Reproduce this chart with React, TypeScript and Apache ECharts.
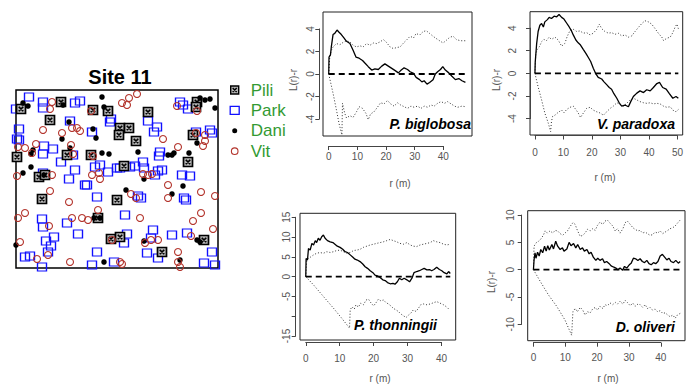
import React, { useEffect, useRef } from 'react';
import * as echarts from 'echarts';

const FONT = '"Liberation Sans Narrow", "Liberation Sans", Arial, sans-serif';
const SANS = '"Liberation Sans", Arial, sans-serif';

// ---- Site 11 stem map (plot units: x 0-202, y 0-178) ----
const speciesNames = ['Pili', 'Park', 'Dani', 'Vit'];

const piliPts = [
  [45,166],[77,158],[34,148],[5,159],[92,157],[132,156],[104,140],[113,140],[103,133],[120,127],
  [181,166],[180,161],[177,133],[51,113],[75,113],[1,111],[172,106],[108,102],[23,91],[29,93],
  [26,69],[101,68],[82,50],[95,29],[104,31],[188,28],[146,16]
];

const parkPts = [
  [13,171],[27,166],[27,160],[0,159],[59,165],[64,167],[164,166],[167,163],[172,159],[95,149],
  [94,146],[3,139],[1,129],[3,128],[54,147],[76,136],[132,147],[141,141],[138,136],[180,136],
  [194,138],[196,135],[28,122],[37,119],[27,114],[57,113],[45,106],[79,101],[84,103],[92,96],
  [101,100],[104,100],[119,102],[114,101],[127,106],[128,100],[144,116],[143,112],[146,98],[142,97],
  [139,93],[166,93],[174,92],[59,98],[53,89],[69,83],[71,83],[27,95],[81,71],[122,72],
  [125,70],[168,70],[170,68],[109,53],[26,49],[27,41],[51,45],[62,34],[38,31],[30,27],
  [35,22],[32,16],[9,11],[14,12],[81,16],[111,34],[108,25],[137,38],[135,30],[156,33],
  [171,35],[131,15],[142,10],[196,16],[26,1],[76,3],[98,6],[188,5],[199,3]
];

const daniPts = [
  [86,171],[7,165],[12,162],[47,163],[88,161],[184,170],[189,168],[194,169],[199,160],[53,146],
  [77,139],[80,130],[46,129],[54,120],[17,118],[15,114],[86,115],[93,114],[122,116],[152,113],
  [156,113],[158,115],[173,115],[181,125],[15,101],[7,95],[28,93],[128,89],[110,78],[156,74],
  [167,82],[78,50],[84,50],[0,23],[128,27],[181,28],[184,26],[88,6],[164,8]
];

const vitPts = [
  [36,166],[34,159],[113,170],[121,174],[106,165],[111,163],[161,162],[181,157],[75,157],[27,138],
  [56,140],[61,140],[64,137],[46,135],[180,135],[189,133],[189,127],[187,122],[147,129],[162,121],
  [2,121],[9,120],[20,124],[16,115],[55,123],[77,112],[57,114],[36,93],[1,92],[76,93],
  [83,95],[84,89],[127,94],[132,93],[136,94],[152,83],[185,76],[199,72],[34,77],[53,66],
  [115,74],[120,70],[152,70],[82,58],[9,55],[2,50],[56,50],[66,50],[72,48],[124,50],
  [185,55],[177,47],[33,42],[197,39],[4,26],[96,28],[129,25],[135,28],[142,28],[175,32],
  [162,16],[32,13],[21,9],[54,6],[104,6],[106,4],[162,6],[164,1]
];

// ---- L(r)-r curves: [r, value] ----
const bigObs = [
  [0,0],[0.1,1.5],[0.6,1.7],[0.9,2.4],[1.5,3.5],[2.1,3.6],[2.9,3.9],[3.6,3.7],[4.4,3.5],[5.3,3.2],
  [6.2,2.9],[7.4,2.7],[8.5,2.1],[9.5,1.5],[10.6,1.4],[11.8,1.2],[12.7,0.95],[13.8,0.65],[15,0.35],[16.1,0.45],
  [17.3,0.4],[18.5,0.7],[19.6,0.9],[20.8,0.7],[22,0.5],[23.2,0.3],[24.3,0.1],[25.1,0.3],[26.3,0.55],[27.5,0.4],
  [28.4,0.2],[29.6,0.05],[30.5,-0.3],[31.7,-0.5],[32.5,-0.7],[33.3,-0.6],[34.3,-0.9],[35.2,-0.75],[36.4,-0.5],[37.2,0],
  [38,0.2],[39,0.4],[39.8,0.65],[40.7,0.35],[41.9,0.1],[43,-0.2],[44.2,-0.5],[45.4,-0.4],[46.5,-0.6],[47.7,-0.75]
];
const bigHi = [
  [0,0],[0.35,1.5],[0.9,2.1],[1.5,2.4],[2.7,2.7],[3.9,2.6],[5,2.8],[6.2,2.95],[7.4,2.85],[8.5,2.55],
  [9.7,2.4],[10.9,2.5],[12,2.4],[13.2,2.7],[14.4,2.55],[15.6,2.75],[16.7,2.7],[17.9,2.85],[19.1,3.05],[20,2.85],
  [21.4,2.4],[22.6,2.25],[23.7,2.35],[24.9,2.4],[26.1,2.75],[27.3,3.05],[28.4,3.35],[29.6,3.2],[30.5,3.6],[31.7,3.45],
  [32.9,3.75],[34,3.85],[35.2,3.6],[36.4,3.35],[37.5,3.15],[38.7,2.95],[39.9,2.75],[41.1,3],[42.2,3.25],[43.4,3.35],
  [44.6,3.05],[46,2.95],[47.7,2.95]
];
const bigLo = [
  [0,0],[1.5,-1.7],[2.7,-3.2],[3.6,-4.4],[4.6,-5.4],[4.8,-2.6],[5.6,-3.5],[6.2,-3.9],[7.4,-3.7],[8.5,-3.85],
  [9.7,-3.35],[10.6,-2.9],[11.8,-3.05],[13,-3.5],[13.8,-4.05],[14.6,-3.55],[15.8,-3.35],[17,-2.95],[18.1,-2.55],[19.3,-2.65],
  [20.5,-2.35],[21.6,-2.65],[22.8,-2.85],[24,-2.55],[25.1,-2.75],[26.3,-2.9],[27.5,-3.05],[28.7,-2.85],[29.8,-2.95],[31,-2.85],
  [32.2,-3.05],[33.3,-2.85],[34.5,-2.95],[35.7,-2.75],[36.8,-2.85],[38,-2.6],[39.2,-2.45],[40.4,-2.6],[41.5,-2.45],[42.7,-2.65],
  [43.9,-2.85],[45,-2.95],[46.5,-2.85],[47.7,-2.9]
];

const parObs = [
  [0,0],[0.1,1],[0.6,2.65],[1.1,3.7],[1.7,4.25],[2.3,4.4],[2.9,4.1],[3.4,4.55],[4.3,4.75],[4.9,4.95],
  [5.7,4.85],[6.6,5.05],[7.5,5],[8.3,5.2],[9.2,4.95],[10,4.8],[10.9,4.45],[11.8,4.1],[12.6,3.75],[13.2,3.4],
  [14.1,2.95],[14.9,2.7],[15.7,2.5],[16.7,2.1],[17.6,1.75],[18.4,1.4],[19.2,1.05],[20.1,0.45],[21,-0.05],[21.8,-0.35],
  [23,-0.5],[23.8,-0.75],[24.7,-1],[25.6,-1.25],[26.4,-1.4],[27.2,-1.8],[28.2,-2.2],[29.1,-2.65],[29.9,-2.9],[31,-2.8],
  [32.2,-2.95],[33,-2.5],[33.9,-2.05],[35.1,-1.75],[36.2,-1.55],[37.4,-1.7],[38.5,-1.45],[39.7,-1.55],[40.8,-1.25],[42,-0.9],
  [42.9,-0.8],[44,-1.25],[45.2,-1.4],[46.3,-1.8],[47.5,-2.2],[48.6,-2.05],[49.4,-2.2]
];
const parHi = [
  [0,0],[0.3,1.75],[0.8,2.1],[1.5,2.35],[2.3,2.8],[3.1,3],[4,2.9],[4.9,3.2],[5.7,3],[6.9,3.2],
  [8,2.95],[9.2,2.4],[10.3,2.65],[11.1,3.25],[12.1,3.8],[13.2,3.9],[14.4,3.7],[15.5,3.75],[16.7,3.55],[17.8,3.6],
  [19,3.4],[20.1,3.55],[21.3,3.9],[22.2,4.35],[23,3.95],[24.1,3.7],[25.3,3.55],[26.4,3.6],[27.6,3.45],[28.7,3.55],
  [29.9,3.3],[31,3.4],[32.2,3.2],[33.3,3.3],[34.5,3.7],[35.6,4.05],[36.8,4.4],[37.9,4.65],[39.1,4.55],[40.2,4.35],
  [41.4,3.95],[42.5,3.55],[43.7,3.2],[44.3,2.9],[45.4,3.1],[46.6,3.2],[47.5,3.6],[48.3,4.1],[48.9,4.35],[49.4,3.95]
];
const parLo = [
  [0,0],[1.1,-1.2],[2.3,-2.35],[3.4,-3.5],[4.6,-4.4],[5.4,-5.15],[5.7,-4.25],[6.1,-3.8],[6.9,-3.7],[8,-3.45],
  [9.2,-3.25],[10,-3.5],[10.9,-3.2],[12.1,-3],[13.2,-2.9],[14.1,-3.2],[14.9,-3.5],[15.7,-3.9],[16.7,-3.5],[17.8,-3.1],
  [19,-3],[20.1,-3.25],[21.3,-3.4],[22.4,-3.5],[23.6,-3.7],[24.7,-3.4],[25.9,-3.1],[27,-2.9],[28.2,-2.6],[29.3,-2.7],
  [30.5,-2.9],[31.6,-2.65],[32.8,-2.35],[33.9,-2.2],[35.1,-2.35],[36.2,-2.5],[37.4,-2.6],[38.5,-2.65],[39.7,-2.6],[40.8,-2.7],
  [42,-2.65],[43.1,-2.7],[44.3,-2.9],[45.4,-3],[46.6,-2.95],[47.5,-3.25],[48.6,-3.4],[49.4,-3.2]
];

const thoObs = [
  [0,0],[0.1,4.6],[0.5,4.2],[0.8,7.1],[1.3,6.7],[1.8,8.4],[2.3,8],[2.8,9.1],[3.2,8.6],[3.7,9.7],
  [4.2,9.2],[4.7,10.1],[5.2,10.5],[5.7,9.7],[6.4,9.1],[7.2,8.8],[8,8.6],[8.6,8.2],[9.3,7.7],[10.1,7.4],
  [10.9,6.9],[11.6,6.3],[12.3,6.1],[13.1,5.5],[13.9,4.9],[14.5,4.4],[15.2,4.2],[16,3.8],[16.8,3.2],[17.5,2.5],
  [18.2,2.1],[19,1.5],[19.8,1],[20.4,0.4],[21.1,0.2],[21.9,-0.2],[22.7,-0.8],[23.4,-1],[24.1,-1.5],[24.9,-1.8],
  [25.7,-1.7],[26.3,-1.9],[27,-1.3],[27.6,-0.4],[28.3,-0.8],[29,-0.4],[29.8,-0.8],[30.6,-1.3],[31.3,-0.4],[31.9,1],
  [32.7,1.3],[33.5,1.5],[34.2,1.8],[34.9,2.1],[35.7,1.7],[36.5,1.8],[37.1,1.5],[37.8,1.8],[38.6,2.4],[39.4,1.8],
  [40.1,1.5],[40.8,1],[41.6,0.7],[42.1,1.3],[42.6,0.8]
];
const thoHi = [
  [0,0],[0.3,4.2],[0.8,4.6],[1.5,5],[2.3,5.5],[3.2,5.9],[4.2,6.1],[5.2,5.9],[6.2,6.3],[7.2,6.1],
  [8.2,6.3],[9.1,6.6],[10.1,6.7],[11.1,6.3],[12.1,5.9],[13.1,6.1],[14.1,6.6],[15,6.7],[16,6.9],[17,7.4],
  [18,7.7],[19,8],[20,8.2],[20.9,8.4],[21.9,8.6],[22.9,8.8],[23.9,9.1],[24.9,9.4],[25.8,9.1],[26.8,8.8],
  [27.8,8.4],[28.8,8.2],[29.8,8.6],[30.8,8],[31.7,7.7],[32.7,7.6],[33.7,8],[34.7,8.2],[35.7,8.4],[36.7,8.6],
  [37.6,9.1],[38.6,8.8],[39.6,8.6],[40.6,8.2],[41.6,8],[42.6,8.2]
];
const thoLo = [
  [0,0],[2.3,-2.1],[5.2,-5],[8.2,-8],[10.6,-10.5],[12.9,-13],[13.1,-8.4],[13.6,-7.6],[14.3,-8.2],[14.8,-7.1],
  [15.5,-7.7],[16.2,-6.7],[17,-7.1],[17.8,-5.9],[18.5,-5.7],[19.2,-6.6],[20,-7.4],[20.7,-6.6],[21.4,-5.7],[22.1,-6.1],
  [22.9,-5.9],[23.7,-6.6],[24.4,-6.9],[25.1,-7.4],[25.8,-8],[26.6,-8.4],[27.3,-8.8],[28,-9.4],[28.8,-9.9],[29.6,-10.3],
  [30.3,-9.7],[31,-9.2],[31.7,-8.4],[32.5,-8.8],[33.2,-8],[33.9,-7.1],[34.7,-6.9],[35.7,-7.1],[36.7,-6.9],[37.6,-6.6],
  [38.6,-6.3],[39.6,-6.7],[40.6,-7.1],[41.6,-7.7],[42.4,-8.4]
];

const oliObs = [
  [0,0],[0.2,1.8],[0.5,3.1],[0.8,2.1],[1.3,3.2],[1.8,2.5],[2.3,3.7],[2.9,3.1],[3.5,4.3],[4,3.4],
  [4.5,4.4],[5,3.6],[5.8,4.6],[6.3,3.8],[7,5.2],[7.6,4.3],[8.4,3.7],[9.1,4],[9.6,3.4],[10.5,3.8],
  [11.2,5],[11.8,4.4],[12.6,4.8],[13.3,4],[13.9,4.6],[14.7,3.7],[15.4,4],[16,3.4],[16.8,3.7],[17.5,2.9],
  [18.1,3.2],[18.8,2.3],[19.6,1.7],[20.2,2.1],[20.9,1.7],[21.7,2],[22.3,1.3],[23,1.5],[23.8,1.1],[24.4,0.7],
  [25.1,0.5],[25.9,0.3],[26.5,0],[27.2,0.3],[28,-0.1],[28.6,0.6],[29.3,0.3],[30.1,0.9],[30.7,1.2],[31.4,2.1],
  [32.1,2],[32.8,1.7],[33.5,2],[34.2,1.5],[34.9,1.3],[35.6,1.7],[36.3,1.1],[37,0.9],[37.7,1.3],[38.4,1.1],
  [39.1,1.5],[39.8,2.5],[40.5,2.8],[41.2,2.3],[41.9,1.8],[42.6,2.1],[43.2,1.5],[44,1.3],[44.7,1.7],[45.5,1.2],
  [46.1,1.5]
];
const oliHi = [
  [0,0],[0.2,4.3],[0.8,4.9],[1.6,5.2],[2.3,5.6],[3.1,6.3],[3.7,7.1],[4.4,6.7],[5.2,7.1],[6.1,6.7],
  [6.8,7.2],[7.6,7.1],[8.4,6.6],[9.2,6.3],[9.9,6.7],[10.7,7.1],[11.5,7.9],[12.4,8.6],[13.1,8.3],[13.8,7.2],
  [14.7,6.1],[15.5,6.3],[16.2,6.7],[17,7.4],[17.8,7.1],[18.6,7.5],[19.4,7.2],[20.1,8.1],[20.9,8.7],[21.8,8.3],
  [22.5,8.9],[23.2,9.1],[24.1,8.5],[24.9,8],[25.7,7.1],[26.4,7.5],[27.2,6.7],[28.1,7.5],[28.8,8.6],[29.5,8.9],
  [30.4,8.3],[31.2,7.7],[31.9,7.4],[32.8,7.1],[33.5,7.2],[34.3,6.7],[35.1,6.9],[35.8,6.6],[36.6,6.3],[37.4,6.4],
  [38.2,6.9],[39,6.7],[39.8,7.1],[40.6,6.6],[41.4,6.9],[42.2,7.2],[42.9,7.5],[43.8,7.7],[44.5,8],[45.2,8.5],
  [46.1,9.1]
];
const oliLo = [
  [0,0],[2.1,-2.1],[4.7,-4.6],[7.3,-6.7],[9.9,-9.2],[12,-12],[12.4,-7.7],[13.1,-7.1],[13.8,-7.7],[14.7,-6.9],
  [15.5,-7.4],[16.2,-8.3],[17,-7.7],[17.8,-7.9],[18.6,-7.2],[19.4,-6.9],[20.1,-7.4],[20.9,-6.7],[21.8,-7.1],[22.5,-6.4],
  [23.2,-6.6],[24.1,-6.1],[24.9,-6.4],[25.7,-6],[26.4,-6.3],[27.2,-5.8],[28.1,-6.3],[28.8,-5.6],[29.5,-6],[30.4,-6.6],
  [31.2,-6.1],[31.9,-6.7],[32.8,-6.3],[33.5,-6.4],[34.3,-6.9],[35.1,-6.4],[35.8,-7.1],[36.6,-6.9],[37.4,-7.4],[38.2,-7.2],
  [39,-7.7],[39.8,-7.5],[40.6,-8],[41.4,-7.9],[42.2,-8.3],[42.9,-8.6],[43.8,-8.3],[44.5,-8.9],[45.2,-8.3],[46.1,-8]
];

const panelTitles = ['P. biglobosa', 'V. paradoxa', 'P. thonningii', 'D. oliveri'];
const panelCurves = [
  { obs: bigObs, hi: bigHi, lo: bigLo },
  { obs: parObs, hi: parHi, lo: parLo },
  { obs: thoObs, hi: thoHi, lo: thoLo },
  { obs: oliObs, hi: oliHi, lo: oliLo },
];
const xTickSpecs = [[0, 40, 10], [0, 50, 10], [0, 40, 10], [0, 40, 10]];
const yTickSpecs = [[-4, 4, 2], [-4, 4, 2], [-15, 15, 5], [-10, 10, 5]];
const hiddenYLabels = [[], [], [-10], []];

// ---- layout (pixels) ----
const layouts = [
  { frame: [323, 12, 149, 124], xr: [-2, 50], yr: [-5.5, 5.5], xAxisY: 146, xMargin: 5, yAxisX: 319.3, yMargin: 4,
    ylab: [293, 80], xlab: [400, 183], lab: [471, 124] },
  { frame: [530, 11.7, 152.7, 123.3], xr: [-1.7, 50.9], yr: [-5.45, 5.45], xAxisY: 135.5, xMargin: 12, yAxisX: 530, yMargin: 13,
    ylab: [496, 80], xlab: [605, 177], lab: [675, 124] },
  { frame: [300, 213.3, 155.7, 126.7], xr: [-1.7, 44.2], yr: [-16, 16], xAxisY: 342, xMargin: 11, yAxisX: 295.7, yMargin: 4,
    ylab: null, xlab: [380, 378], lab: [437, 325] },
  { frame: [527.7, 210.7, 157.3, 130], xr: [-1.8, 47.6], yr: [-13, 10.8], xAxisY: 342.7, xMargin: 10, yAxisX: 521.7, yMargin: 6,
    ylab: [491.7, 282], xlab: [608, 378], lab: [675, 327] },
];

function buildOption() {
  const grid: any[] = [];
  const xAxis: any[] = [];
  const yAxis: any[] = [];
  const series: any[] = [];
  const graphic: any[] = [];

  // scatter stem map
  grid.push({ left: 16, top: 90, width: 202, height: 178, show: true, borderColor: '#000', borderWidth: 1.5, backgroundColor: 'transparent' });
  xAxis.push({ gridIndex: 0, type: 'value', min: 0, max: 202, show: false });
  yAxis.push({ gridIndex: 0, type: 'value', min: 0, max: 178, show: false });

  const piliSym = 'path://M0,0H10V10H0ZM2.5,2.5L7.5,7.5M7.5,2.5L2.5,7.5';
  series.push({ name: 'Park', type: 'scatter', xAxisIndex: 0, yAxisIndex: 0, data: parkPts, symbol: 'rect', symbolSize: [9, 8],
    itemStyle: { color: 'rgba(0,0,0,0)', borderColor: '#1010ff', borderWidth: 1.3, opacity: 1 }, silent: true });
  series.push({ name: 'Pili', type: 'scatter', xAxisIndex: 0, yAxisIndex: 0, data: piliPts, symbol: piliSym, symbolSize: 9,
    itemStyle: { color: '#b5b5b5', borderColor: '#000', borderWidth: 1.7, opacity: 1 }, silent: true });
  series.push({ name: 'Dani', type: 'scatter', xAxisIndex: 0, yAxisIndex: 0, data: daniPts, symbol: 'circle', symbolSize: 5.5,
    itemStyle: { color: '#000', opacity: 1 }, silent: true });
  series.push({ name: 'Vit', type: 'scatter', xAxisIndex: 0, yAxisIndex: 0, data: vitPts, symbol: 'circle', symbolSize: 7,
    itemStyle: { color: 'rgba(0,0,0,0)', borderColor: '#b3342c', borderWidth: 1.1, opacity: 1 }, silent: true });

  layouts.forEach((L, i) => {
    const [fl, ft, fw, fh] = L.frame;
    const gMain = 1 + i * 3, gX = gMain + 1, gY = gMain + 2;
    const [xs0, xs1, xstep] = xTickSpecs[i];
    const [ys0, ys1, ystep] = yTickSpecs[i];
    const px = (v: number) => fl + (v - L.xr[0]) / (L.xr[1] - L.xr[0]) * fw;
    const py = (v: number) => ft + (L.yr[1] - v) / (L.yr[1] - L.yr[0]) * fh;

    grid.push({ left: fl, top: ft, width: fw, height: fh, show: true, borderColor: '#222', borderWidth: 1, backgroundColor: 'transparent' });
    xAxis.push({ gridIndex: gMain, type: 'value', min: L.xr[0], max: L.xr[1], show: false });
    yAxis.push({ gridIndex: gMain, type: 'value', min: L.yr[0], max: L.yr[1], show: false });

    // x tick axis
    grid.push({ left: px(xs0), top: L.xAxisY - 1, width: px(xs1) - px(xs0), height: 1 });
    xAxis.push({ gridIndex: gX, type: 'value', min: xs0, max: xs1, interval: xstep, position: 'bottom',
      axisLine: { show: true, onZero: false, lineStyle: { color: '#444', width: 1 } },
      axisTick: { show: true, length: 4, lineStyle: { color: '#444' } },
      axisLabel: { show: true, margin: L.xMargin, fontSize: 10, color: '#555', fontFamily: FONT },
      splitLine: { show: false } });
    yAxis.push({ gridIndex: gX, type: 'value', min: 0, max: 1, show: false });

    // y tick axis
    const hide = hiddenYLabels[i];
    grid.push({ left: L.yAxisX, top: py(ys1), width: 1, height: py(ys0) - py(ys1) });
    xAxis.push({ gridIndex: gY, type: 'value', min: 0, max: 1, show: false });
    yAxis.push({ gridIndex: gY, type: 'value', min: ys0, max: ys1, interval: ystep, position: 'left',
      axisLine: { show: true, onZero: false, lineStyle: { color: '#444', width: 1 } },
      axisTick: { show: true, length: 4, lineStyle: { color: '#444' } },
      axisLabel: { show: true, rotate: 90, margin: L.yMargin, fontSize: 10, color: '#555', fontFamily: FONT,
        formatter: (v: number) => (hide.indexOf(v) >= 0 ? '' : String(v)) },
      splitLine: { show: false } });

    const c = panelCurves[i];
    const rEnd = c.obs[c.obs.length - 1][0];
    const common = { type: 'line', xAxisIndex: gMain, yAxisIndex: gMain, symbol: 'none', showSymbol: false, silent: true, clip: true };
    series.push({ ...common, name: 'hi' + i, data: c.hi, lineStyle: { color: '#333', width: 1, type: [1, 2] } });
    series.push({ ...common, name: 'lo' + i, data: c.lo, lineStyle: { color: '#333', width: 1, type: [1, 2] } });
    series.push({ ...common, name: 'obs' + i, data: c.obs, lineStyle: { color: '#000', width: 1.3 } });
    series.push({ ...common, name: 'zero' + i, data: [[0, 0], [rEnd, 0]], lineStyle: { color: '#000', width: 1.8, type: [6, 4] } });

    graphic.push({ type: 'text', x: L.lab[0], y: L.lab[1], style: { text: panelTitles[i], textAlign: 'right', textVerticalAlign: 'middle',
      fontSize: 14, fontWeight: 'bold', fontStyle: 'italic', fontFamily: SANS, fill: '#000' } });
    graphic.push({ type: 'text', x: L.xlab[0], y: L.xlab[1], style: { text: 'r (m)', textAlign: 'center', textVerticalAlign: 'middle',
      fontSize: 10, fontFamily: FONT, fill: '#555' } });
    if (L.ylab) {
      graphic.push({ type: 'text', x: L.ylab[0], y: L.ylab[1], rotation: Math.PI / 2, style: { text: 'L(r)-r', textAlign: 'center',
        textVerticalAlign: 'middle', fontSize: 10, fontFamily: FONT, fill: '#555' } });
    }
  });

  const legendIcons: Record<string, any> = {
    Pili: { icon: 'path://M0,0M10,10M1,1H9V9H1ZM3,3L7,7M7,3L3,7', itemStyle: { color: '#b5b5b5', borderColor: '#000', borderWidth: 1.4 } },
    Park: { icon: 'path://M0,0M10,10M0.5,1H9.5V9H0.5Z', itemStyle: { color: 'rgba(0,0,0,0)', borderColor: '#1010ff', borderWidth: 1.3 } },
    Dani: { icon: 'path://M0,0M10,10M2.5,5A2.5,2.5,0,1,1,7.5,5A2.5,2.5,0,1,1,2.5,5Z', itemStyle: { color: '#000', borderWidth: 0 } },
    Vit: { icon: 'path://M0,0M10,10M1.7,5A3.3,3.3,0,1,1,8.3,5A3.3,3.3,0,1,1,1.7,5Z', itemStyle: { color: 'rgba(0,0,0,0)', borderColor: '#b3342c', borderWidth: 1.1 } },
  };

  return {
    animation: false,
    title: { text: 'Site 11', left: 115, top: 62, textAlign: 'center',
      textStyle: { fontSize: 20, fontWeight: 'bold', fontFamily: SANS, color: '#000' } },
    legend: {
      orient: 'vertical', left: 224, top: 76, itemGap: 2.4, itemWidth: 10, itemHeight: 10, selectedMode: false,
      textStyle: { fontSize: 17, color: '#339a33', fontFamily: SANS, lineHeight: 18, padding: [0, 0, 0, 6] },
      data: speciesNames.map((n) => ({ name: n, ...legendIcons[n] })),
    },
    grid, xAxis, yAxis, series, graphic,
  };
}

export default function App() {
  const ref = useRef<HTMLDivElement>(null);
  useEffect(() => {
    if (!ref.current) return;
    const chart = echarts.init(ref.current, undefined, { renderer: 'svg' });
    chart.setOption(buildOption() as any);
    return () => chart.dispose();
  }, []);
  return <div ref={ref} style={{ position: 'fixed', left: 0, top: 0, width: 686, height: 385, background: '#fff' }} />;
}
